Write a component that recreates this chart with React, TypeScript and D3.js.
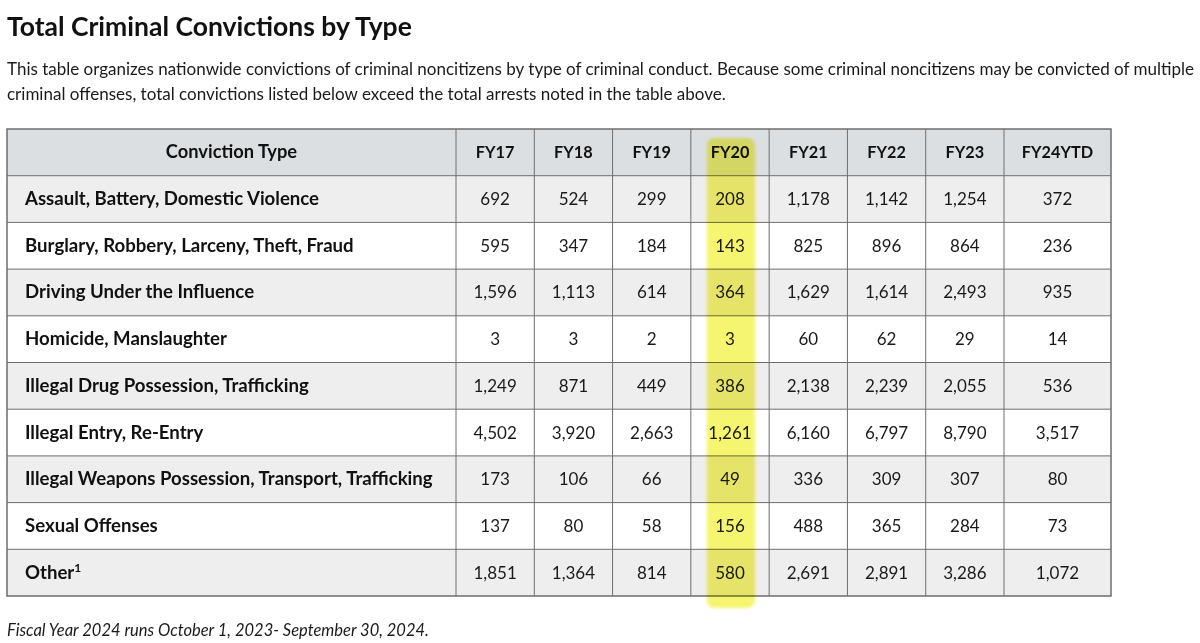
import React from "react";
import * as d3 from "d3";

const title = "Total Criminal Convictions by Type";
const descLines = [
  "This table organizes nationwide convictions of criminal noncitizens by type of criminal conduct. Because some criminal noncitizens may be convicted of multiple",
  "criminal offenses, total convictions listed below exceed the total arrests noted in the table above.",
];
const footnote = "Fiscal Year 2024 runs October 1, 2023- September 30, 2024.";
const firstHeader = "Conviction Type";
const years = ["FY17", "FY18", "FY19", "FY20", "FY21", "FY22", "FY23", "FY24YTD"];
const categories = [
  "Assault, Battery, Domestic Violence",
  "Burglary, Robbery, Larceny, Theft, Fraud",
  "Driving Under the Influence",
  "Homicide, Manslaughter",
  "Illegal Drug Possession, Trafficking",
  "Illegal Entry, Re-Entry",
  "Illegal Weapons Possession, Transport, Trafficking",
  "Sexual Offenses",
  "Other",
];
const fy17 = [692, 595, 1596, 3, 1249, 4502, 173, 137, 1851];
const fy18 = [524, 347, 1113, 3, 871, 3920, 106, 80, 1364];
const fy19 = [299, 184, 614, 2, 449, 2663, 66, 58, 814];
const fy20 = [208, 143, 364, 3, 386, 1261, 49, 156, 580];
const fy21 = [1178, 825, 1629, 60, 2138, 6160, 336, 488, 2691];
const fy22 = [1142, 896, 1614, 62, 2239, 6797, 309, 365, 2891];
const fy23 = [1254, 864, 2493, 29, 2055, 8790, 307, 284, 3286];
const fy24 = [372, 236, 935, 14, 536, 3517, 80, 73, 1072];
const series = [fy17, fy18, fy19, fy20, fy21, fy22, fy23, fy24];
const highlightYear = "FY20";

const W = 1200;
const H = 643;
const FONT = "'Source Sans Pro', Lato, 'Open Sans', sans-serif";

export default function App() {
  const left = 7;
  const right = 1111;
  const top = 129;
  const bottom = 596;
  const firstColW = 449;
  const lastColW = 107;
  const fmt = d3.format(",");

  const rowKeys = ["header", ...categories];
  const y = d3.scaleBand<string>().domain(rowKeys).range([top, bottom]);
  const xMid = d3
    .scaleBand<string>()
    .domain(years.slice(0, 7))
    .range([left + firstColW, right - lastColW]);
  const colX = (yr: string) => (yr === "FY24YTD" ? right - lastColW : (xMid(yr) as number));
  const colW = (yr: string) => (yr === "FY24YTD" ? lastColW : xMid.bandwidth());

  const hx = colX(highlightYear);
  const hw = colW(highlightYear);

  const vLines = [left + firstColW, ...years.slice(1).map(colX)];

  return (
    <svg
      width={W}
      height={H}
      style={{ position: "absolute", left: 0, top: 0, display: "block", background: "#fff" }}
      fontFamily={FONT}
    >
      <defs>
        <filter id="soft" x="-20%" y="-5%" width="140%" height="110%">
          <feGaussianBlur stdDeviation={1.6} />
        </filter>
      </defs>
      <text x={7} y={36} fontSize={26.5} fontWeight={700} fill="#111">
        {title}
      </text>
      {descLines.map((l, i) => (
        <text key={i} x={7} y={75 + i * 25} fontSize={17} fill="#1a1a1a">
          {l}
        </text>
      ))}

      {rowKeys.map((k, i) => (
        <rect
          key={k}
          x={left}
          y={y(k)}
          width={right - left}
          height={y.bandwidth()}
          fill={i === 0 ? "#dcdfe1" : i % 2 === 1 ? "#eeeeee" : "#ffffff"}
        />
      ))}

      {rowKeys.slice(1).map((k) => (
        <line key={k} x1={left} x2={right} y1={y(k)} y2={y(k)} stroke="#6e6e6e" strokeWidth={1} />
      ))}
      {vLines.map((vx, i) => (
        <line key={i} x1={vx} x2={vx} y1={top} y2={bottom} stroke="#6e6e6e" strokeWidth={1} />
      ))}
      <rect x={left} y={top} width={right - left} height={bottom - top} fill="none" stroke="#6e6e6e" strokeWidth={1.5} />

      <text
        x={left + firstColW / 2}
        y={(y("header") as number) + y.bandwidth() / 2 + 6}
        fontSize={18.3}
        fontWeight={700}
        textAnchor="middle"
        fill="#111"
      >
        {firstHeader}
      </text>
      {years.map((yr) => (
        <text
          key={yr}
          x={colX(yr) + colW(yr) / 2}
          y={(y("header") as number) + y.bandwidth() / 2 + 6}
          fontSize={16.3}
          fontWeight={700}
          textAnchor="middle"
          fill="#111"
        >
          {yr}
        </text>
      ))}

      {categories.map((c) => (
        <text
          key={c}
          x={25}
          y={(y(c) as number) + y.bandwidth() / 2 + 6}
          fontSize={18.6}
          fontWeight={700}
          fill="#111"
        >
          {c}
          {c === "Other" ? (
            <tspan fontSize={12} dy={-7}>
              1
            </tspan>
          ) : null}
        </text>
      ))}

      {series.map((vals, j) =>
        vals.map((v, i) => (
          <text
            key={j + "-" + i}
            x={colX(years[j]) + colW(years[j]) / 2}
            y={(y(categories[i]) as number) + y.bandwidth() / 2 + 6}
            fontSize={17}
            textAnchor="middle"
            fill="#1a1a1a"
          >
            {fmt(v)}
          </text>
        ))
      )}

      <rect
        x={hx + 16}
        y={138}
        width={hw - 30}
        height={470}
        rx={8}
        fill="#f3f138"
        opacity={0.72}
        filter="url(#soft)"
        style={{ mixBlendMode: "multiply" }}
      />

      <text x={7} y={636} fontSize={16.5} fontStyle="italic" fill="#1a1a1a">
        {footnote}
      </text>
    </svg>
  );
}
